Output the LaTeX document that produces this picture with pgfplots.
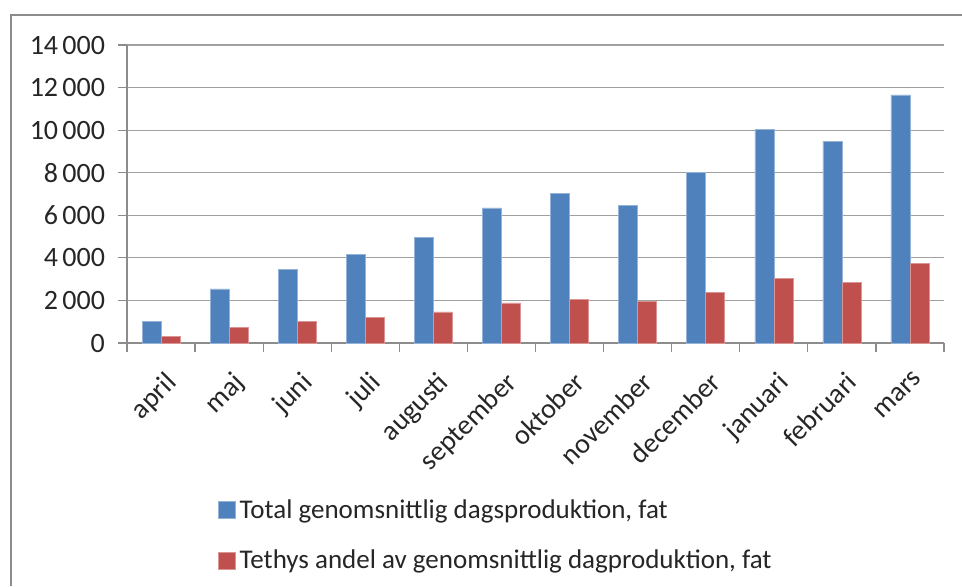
\documentclass[border=0pt]{standalone}
\usepackage{pgfplots}
\pgfplotsset{compat=1.18}
\usepackage{fontspec}
\setmainfont{Carlito}
\definecolor{xlblue}{HTML}{4F81BD}
\definecolor{xlred}{HTML}{C0504D}
\definecolor{xlgrid}{HTML}{A0A0A0}
\definecolor{xlframe}{HTML}{8C8C8C}
\begin{document}
\begin{tikzpicture}
\useasboundingbox (-63.5pt,-121.5pt) rectangle (417.5pt,171.5pt);
% chart frame (right and bottom sides are cut off in the source)
\draw[xlframe, line width=1.2pt] (417.5pt,164pt) -- (-58pt,164pt) -- (-58pt,-121.5pt);
\begin{axis}[
scale only axis,
width=408.5pt, height=149pt,
ybar=0pt, bar width=9.5pt,
xmin=0.5, xmax=12.5,
ymin=0, ymax=14000,
ytick distance=2000,
xtick={1,...,12},
xticklabels={april, maj, juni, juli, augusti, september, oktober, november, december, januari, februari, mars},
minor xtick={0.5,1.5,...,12.5},
axis x line*=bottom, axis y line*=left,
axis line style={xlframe, line width=0.6pt},
tick align=outside,
major x tick style={draw=none},
minor x tick style={xlframe, line width=0.6pt},
ytick style={xlframe, line width=0.6pt},
minor tick length=4.5pt, major tick length=4.5pt,
ymajorgrids, grid style={xlgrid, line width=0.6pt},
/pgf/number format/assume math mode=true,
/pgf/number format/1000 sep={\hspace{0.15em}},
scaled y ticks=false,
ticklabel style={font=\fontsize{14}{16}\selectfont, text=black!85},
yticklabel style={xshift=-3pt},
xticklabel style={rotate=45, anchor=north east, xshift=-2pt, yshift=-4pt},
legend style={draw=none, at={(0.111,-0.51)}, anchor=north west,
  font=\fontsize{13.5}{15}\selectfont, text=black!85, row sep=10.5pt,
  inner sep=0pt},
legend cell align=left,
legend image code/.code={\fill[#1] (0pt,-4.25pt) rectangle (8.5pt,4.25pt);},
]
\addplot[fill=xlblue, draw=xlblue!60!white, line width=0.3pt]
coordinates {(1,1030) (2,2540) (3,3450) (4,4170) (5,4950) (6,6350) (7,7020) (8,6460) (9,8010) (10,10020) (11,9480) (12,11660)};
\addplot[fill=xlred, draw=xlred!60!white, line width=0.3pt]
coordinates {(1,310) (2,720) (3,1030) (4,1220) (5,1460) (6,1880) (7,2050) (8,1960) (9,2370) (10,3025) (11,2850) (12,3750)};
\legend{{Total genomsnittlig dagsproduktion, fat}, {Tethys andel av genomsnittlig dagproduktion, fat}}
\end{axis}
\end{tikzpicture}
\end{document}
